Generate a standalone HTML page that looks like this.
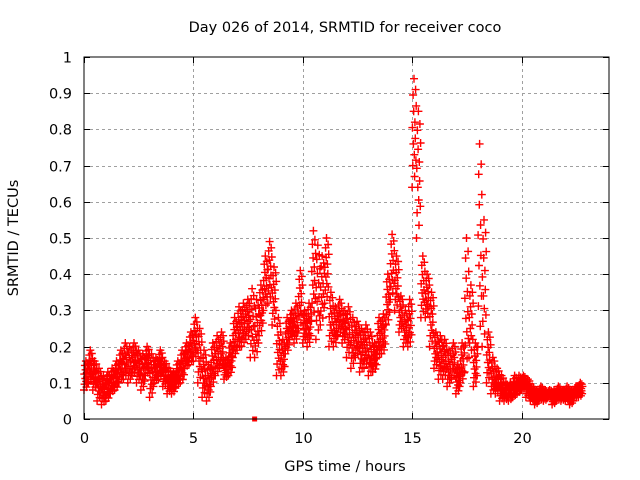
<!DOCTYPE html>
<html><head><meta charset="utf-8"><style>
body{margin:0;background:#fff}
svg{display:block;font-family:"DejaVu Sans","Liberation Sans",sans-serif}
</style></head><body>
<svg id="chart" width="640" height="480">
<text x="345" y="32" text-anchor="middle" font-size="14.5" fill="#000">Day 026 of 2014, SRMTID for receiver coco</text>
<text x="345" y="471" text-anchor="middle" font-size="14.5" fill="#000">GPS time / hours</text>
<text transform="translate(18,238) rotate(-90)" text-anchor="middle" font-size="14.5" fill="#000">SRMTID / TECUs</text>
<g id="grid"></g>
<g id="ticks"></g>
<g id="marks"></g>
<rect x="84" y="57" width="525" height="362" fill="none" stroke="#000" stroke-width="1"/>
</svg>
<script>
const times=[0.0,0.2,0.4,0.6,0.8,1.0,1.2,1.4,1.6,1.8,2.0,2.2,2.4,2.6,2.8,3.0,3.2,3.4,3.6,3.8,4.0,4.2,4.4,4.6,4.8,5.0,5.2,5.4,5.6,5.8,6.0,6.2,6.4,6.6,6.8,7.0,7.2,7.4,7.6,7.8,8.0,8.2,8.4,8.6,8.8,9.0,9.2,9.4,9.6,9.8,10.0,10.2,10.4,10.6,10.8,11.0,11.2,11.4,11.6,11.8,12.0,12.2,12.4,12.6,12.8,13.0,13.2,13.4,13.6,13.8,14.0,14.2,14.4,14.6,14.8,15.0,15.2,15.4,15.6,15.8,16.0,16.2,16.4,16.6,16.8,17.0,17.2,17.4,17.6,17.8,18.0,18.2,18.4,18.6,18.8,19.0,19.2,19.4,19.6,19.8,20.0,20.2,20.4,20.6,20.8,21.0,21.2,21.4,21.6,21.8,22.0,22.2,22.4,22.6];
const lows=[.08,.10,.08,.05,.04,.05,.07,.08,.10,.11,.10,.12,.10,.08,.12,.06,.10,.11,.09,.07,.07,.09,.10,.14,.15,.16,.10,.06,.05,.09,.12,.14,.11,.12,.17,.19,.20,.22,.17,.17,.23,.30,.32,.26,.12,.12,.18,.22,.21,.25,.21,.20,.27,.22,.26,.32,.20,.20,.23,.21,.17,.14,.17,.13,.14,.12,.13,.17,.18,.26,.33,.30,.24,.20,.20,.64,.50,.28,.28,.20,.14,.11,.11,.09,.11,.07,.10,.13,.17,.09,.20,.20,.10,.07,.07,.05,.05,.05,.06,.07,.08,.06,.05,.04,.05,.05,.06,.04,.05,.05,.05,.04,.06,.06];
const highs=[.16,.19,.16,.14,.12,.13,.14,.16,.19,.21,.20,.21,.19,.18,.20,.18,.17,.19,.16,.14,.13,.16,.19,.21,.24,.28,.25,.19,.15,.21,.23,.24,.17,.21,.28,.31,.32,.33,.36,.33,.37,.45,.49,.42,.28,.22,.28,.30,.32,.41,.30,.32,.52,.48,.45,.50,.35,.31,.33,.30,.31,.28,.27,.25,.26,.24,.21,.28,.29,.40,.51,.45,.34,.30,.33,.94,.85,.45,.40,.35,.24,.23,.22,.19,.21,.15,.21,.50,.37,.21,.76,.55,.24,.17,.14,.12,.10,.10,.12,.12,.12,.11,.09,.08,.09,.08,.08,.08,.09,.08,.09,.08,.09,.10];
const xTicks=[0,5,10,15,20];
const yTicks=[0,0.1,0.2,0.3,0.4,0.5,0.6,0.7,0.8,0.9,1];
const yTickLabels=["0","0.1","0.2","0.3","0.4","0.5","0.6","0.7","0.8","0.9","1"];

const X0=84,X1=609,Y0=419,Y1=57,XMAX=24;
function xs(t){return X0+t/XMAX*(X1-X0);}
function ys(v){return Y0-v*(Y0-Y1);}
const NS='http://www.w3.org/2000/svg';
const grid=document.getElementById('grid'),tk=document.getElementById('ticks'),mk=document.getElementById('marks');
function mk_(tag,attrs,parent){const e=document.createElementNS(NS,tag);for(const k in attrs)e.setAttribute(k,attrs[k]);parent.appendChild(e);return e;}
yTicks.forEach((v,i)=>{
  const y=Math.round(ys(v))+0.5;
  if(v>0&&v<1){const g=mk_('line',{x1:X0,x2:X1,y1:y,y2:y,stroke:'#a0a0a0','stroke-dasharray':'3,3'},grid);
  
  }
  mk_('line',{x1:X0,x2:X0+6,y1:y,y2:y,stroke:'#000'},grid);
  mk_('line',{x1:X1-6,x2:X1,y1:y,y2:y,stroke:'#000'},grid);
  const t=mk_('text',{x:X0-12,y:y+5,'text-anchor':'end','font-size':'14.5'},tk);t.textContent=yTickLabels[i];
  
  
});
xTicks.forEach(v=>{
  const x=Math.round(xs(v))+0.5;
  if(v>0){const g=mk_('line',{x1:x,x2:x,y1:Y1,y2:Y0,stroke:'#a0a0a0','stroke-dasharray':'3,3'},grid);
  
  }
  mk_('line',{x1:x,x2:x,y1:Y0,y2:Y0-6,stroke:'#000'},grid);
  mk_('line',{x1:x,x2:x,y1:Y1,y2:Y1+6,stroke:'#000'},grid);
  const t=mk_('text',{x:x,y:Y0+24,'text-anchor':'middle','font-size':'14.5'},tk);t.textContent=String(v);
  
  
});
let d='';
const offs=[0,0.55,0.2,0.85,0.4,0.7,1,0.3,0.1,0.6,0.45,0.9,0.25,0.75];
times.forEach((t,i)=>{
  const lo=lows[i],hi=highs[i];
  offs.forEach((f,j)=>{
    const x=xs(t+j*0.0143),y=ys(lo+(hi-lo)*f);
    d+=`M${(x-4).toFixed(1)} ${y.toFixed(1)}h8M${x.toFixed(1)} ${(y-4).toFixed(1)}v8`;
  });
});
const p=mk_('path',{d:d,stroke:'#ff0000','stroke-width':'1.4',fill:'none'},mk);


const sq=mk_('rect',{x:xs(7.8)-2.5,y:Y0-2.5,width:5,height:5,fill:'#ff0000'},mk);


</script>
</body></html>
